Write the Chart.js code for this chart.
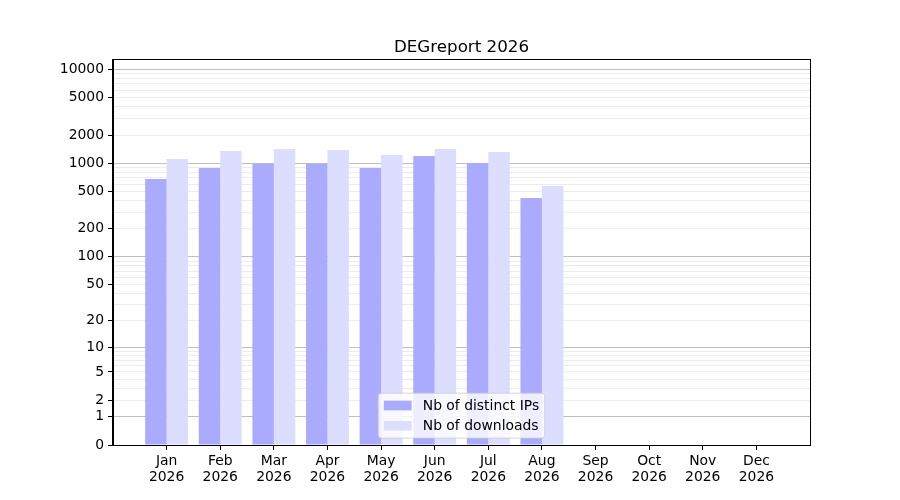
<!DOCTYPE html>
<html>
<head>
<meta charset="utf-8">
<script src="https://cdn.jsdelivr.net/npm/chart.js@4/dist/chart.umd.min.js"></script>
<style>
  html, body { margin: 0; padding: 0; background: #fff; }
  #wrap { width: 900px; height: 500px; }
</style>
</head>
<body>
<div id="wrap"><canvas id="c" width="900" height="500"></canvas></div>
<script>
// ---- data ----
const chartTitle = 'DEGreport 2026';
const months = ['Jan', 'Feb', 'Mar', 'Apr', 'May', 'Jun', 'Jul', 'Aug', 'Sep', 'Oct', 'Nov', 'Dec'];
const year = '2026';
const seriesNames = ['Nb of distinct IPs', 'Nb of downloads'];
const distinctIPs = [681, 891, 991, 991, 891, 1197, 1008, 427];
const downloads = [1112, 1353, 1421, 1386, 1227, 1421, 1320, 573];
const yTickLabels = [0, 1, 2, 5, 10, 20, 50, 100, 200, 500, 1000, 2000, 5000, 10000];
const yMajorGrid = [1, 10, 100, 1000, 10000];
const yMaxValue = 12600;

// y axis uses log10(1 + v)
const f = v => Math.log10(1 + v);

// minor grid values 2..9 x each decade
const yMinorGrid = [];
[1, 10, 100, 1000].forEach(d => { for (let k = 2; k <= 9; k++) yMinorGrid.push(k * d); });
const yAllTicks = Array.from(new Set([0, ...yMajorGrid, ...yMinorGrid, ...yTickLabels])).sort((a, b) => a - b);

const FONT = 'DejaVu Sans';

const titlePlugin = {
  id: 'mplTitle',
  afterDraw(chart) {
    const ctx = chart.ctx, a = chart.chartArea;
    ctx.save();
    ctx.font = '16.7px "' + FONT + '"';
    ctx.fillStyle = '#000';
    ctx.textAlign = 'center';
    ctx.textBaseline = 'alphabetic';
    ctx.fillText(chartTitle, (a.left + a.right) / 2, a.top - 8.3);
    ctx.restore();
  }
};

const framePlugin = {
  id: 'frame',
  afterDraw(chart) {
    const ctx = chart.ctx, a = chart.chartArea;
    ctx.save();
    ctx.strokeStyle = '#000';
    ctx.lineWidth = 1;
    const l = Math.round(a.left) - 0.5, t = Math.round(a.top) - 0.5;
    const r = Math.round(a.right) + 0.5, b = Math.round(a.bottom) + 0.5;
    ctx.strokeRect(l, t, r - l, b - t);
    ctx.restore();
  }
};

const legendPlugin = {
  id: 'mplLegend',
  afterDraw(chart) {
    const ctx = chart.ctx, a = chart.chartArea;
    const fs = 13.9;
    const pad = 5.6, handleLen = 27.8, handleH = 9.7, textPad = 11.1, spacing = 6.9, rowH = 13.4, axPad = 6.9;
    const ds = chart.data.datasets;
    ctx.save();
    ctx.font = fs + 'px "' + FONT + '"';
    const textW = Math.max(...ds.map(d => ctx.measureText(d.label).width));
    const boxW = pad * 2 + handleLen + textPad + textW;
    const boxH = pad * 2 + ds.length * rowH + (ds.length - 1) * spacing;
    const bx = (a.left + a.right) / 2 - boxW / 2;
    const by = a.bottom - axPad - boxH;
    // box
    const r = 3;
    ctx.beginPath();
    ctx.moveTo(bx + r, by);
    ctx.lineTo(bx + boxW - r, by);
    ctx.quadraticCurveTo(bx + boxW, by, bx + boxW, by + r);
    ctx.lineTo(bx + boxW, by + boxH - r);
    ctx.quadraticCurveTo(bx + boxW, by + boxH, bx + boxW - r, by + boxH);
    ctx.lineTo(bx + r, by + boxH);
    ctx.quadraticCurveTo(bx, by + boxH, bx, by + boxH - r);
    ctx.lineTo(bx, by + r);
    ctx.quadraticCurveTo(bx, by, bx + r, by);
    ctx.closePath();
    ctx.fillStyle = 'rgba(255,255,255,0.8)';
    ctx.fill();
    ctx.strokeStyle = 'rgba(204,204,204,0.8)';
    ctx.lineWidth = 1;
    ctx.stroke();
    ds.forEach((d, i) => {
      const cy = by + pad + rowH / 2 + i * (rowH + spacing);
      ctx.fillStyle = d.backgroundColor;
      ctx.fillRect(bx + pad, cy - handleH / 2, handleLen, handleH);
      ctx.fillStyle = '#000';
      ctx.textAlign = 'left';
      ctx.textBaseline = 'middle';
      ctx.fillText(d.label, bx + pad + handleLen + textPad, cy + 0.5);
    });
    ctx.restore();
  }
};

new Chart(document.getElementById('c'), {
  type: 'bar',
  data: {
    datasets: [
      {
        label: seriesNames[0],
        data: distinctIPs.map((v, i) => ({ x: i, y: f(v) })),
        backgroundColor: '#aaaaff',
        borderWidth: 0,
        categoryPercentage: 0.8,
        barPercentage: 1.0
      },
      {
        label: seriesNames[1],
        data: downloads.map((v, i) => ({ x: i, y: f(v) })),
        backgroundColor: '#ddddff',
        borderWidth: 0,
        categoryPercentage: 0.8,
        barPercentage: 1.0
      }
    ]
  },
  options: {
    responsive: false,
    animation: false,
    devicePixelRatio: 1,
    layout: { padding: { top: 60, right: 90, left: 0, bottom: 0 } },
    plugins: {
      legend: { display: false },
      title: { display: false },
      tooltip: { enabled: false }
    },
    scales: {
      x: {
        type: 'linear',
        min: -1,
        max: months.length,
        offset: false,
        afterBuildTicks: scale => { scale.ticks = months.map((m, i) => ({ value: i })); },
        afterFit: scale => { scale.height = 55; },
        grid: { display: true, drawOnChartArea: false, drawTicks: true, tickLength: 5, tickColor: '#000', offset: false },
        border: { display: true, color: '#000' },
        ticks: {
          autoSkip: false,
          maxRotation: 0,
          padding: 3,
          color: '#000',
          font: { family: FONT, size: 13.9, lineHeight: 1.15 },
          callback: v => [months[v], year]
        }
      },
      y: {
        type: 'linear',
        min: 0,
        max: f(yMaxValue),
        z: 1,
        afterBuildTicks: scale => { scale.ticks = yAllTicks.map(v => ({ value: f(v), raw: v })); },
        afterFit: scale => { scale.width = 113; },
        grid: {
          drawTicks: true,
          tickLength: 5,
          color: c => {
            const raw = c.tick ? c.tick.raw : null;
            if (raw === 0) return 'rgba(0,0,0,0)';
            if (yMajorGrid.includes(raw)) return 'rgba(128,128,128,0.5)';
            return 'rgba(128,128,128,0.15)';
          },
          tickColor: c => {
            const raw = c.tick ? c.tick.raw : null;
            return yTickLabels.includes(raw) ? '#000' : 'rgba(0,0,0,0)';
          }
        },
        border: { display: true, color: '#000' },
        ticks: {
          autoSkip: false,
          padding: 4,
          color: '#000',
          font: { family: FONT, size: 13.9 },
          callback: (v, i, ticks) => {
            const raw = ticks[i].raw;
            return yTickLabels.includes(raw) ? String(raw) : '';
          }
        }
      }
    }
  },
  plugins: [titlePlugin, framePlugin, legendPlugin]
});
</script>
</body>
</html>
